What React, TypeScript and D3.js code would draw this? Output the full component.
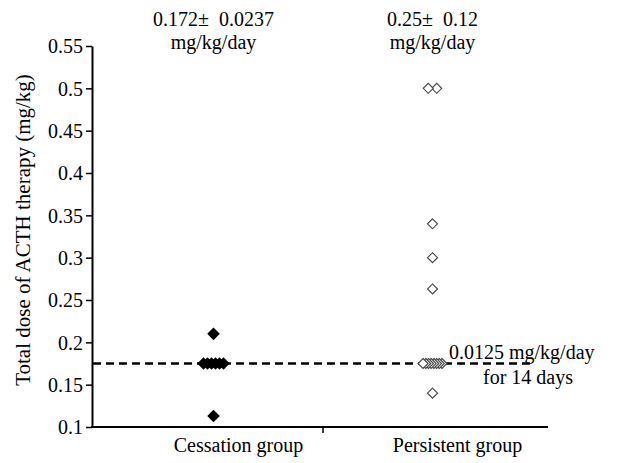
import React, { useEffect, useRef } from 'react';
import * as d3 from 'd3';

// values (mg/kg)
const categories = ['Cessation group', 'Persistent group'];
const cessationValues = [0.21, 0.175, 0.175, 0.175, 0.175, 0.175, 0.175, 0.113];
const persistentValues = [0.5, 0.5, 0.34, 0.3, 0.263, 0.175, 0.175, 0.175, 0.175, 0.175, 0.175, 0.175, 0.175, 0.14];
const summaries = ['0.172\u00b1  0.0237', '0.25\u00b1  0.12'];
const yTicks = [0.1, 0.15, 0.2, 0.25, 0.3, 0.35, 0.4, 0.45, 0.5, 0.55];
const referenceDose = 0.175;

const App = () => {
  const svgRef = useRef<SVGSVGElement>(null);

  useEffect(() => {
    const width = 618;
    const height = 463;
    const font = "'Liberation Serif', 'DejaVu Serif', serif";

    const svg = d3.select(svgRef.current);
    svg.selectAll('*').remove();
    svg.attr('width', width).attr('height', height)
      .style('display', 'block')
      .style('position', 'absolute')
      .style('left', '0px')
      .style('top', '0px')
      .style('font-family', font);

    const y = d3.scaleLinear().domain([0.1, 0.55]).range([427, 46]);
    const x = d3.scalePoint<string>().domain(categories).range([104, 542]).padding(0.5);

    // axes
    const yAxis = svg.append('g')
      .attr('transform', 'translate(92,0)')
      .call(d3.axisLeft(y).tickValues(yTicks).tickSize(6).tickSizeOuter(0)
        .tickFormat(d => String(+(+d).toFixed(2))));
    yAxis.attr('font-family', null).attr('font-size', null);
    yAxis.select('.domain').attr('stroke-width', 2);
    yAxis.selectAll('.tick line').attr('stroke-width', 1.5);
    yAxis.selectAll('.tick text')
      .style('font-size', '20px').attr('fill', '#000').attr('x', -9).attr('dy', '0.34em');

    svg.append('line')
      .attr('x1', 91).attr('x2', 548).attr('y1', y(0.1)).attr('y2', y(0.1))
      .attr('stroke', '#000').attr('stroke-width', 2);
    svg.append('line')
      .attr('x1', 323).attr('x2', 323).attr('y1', y(0.1)).attr('y2', y(0.1) + 6)
      .attr('stroke', '#000').attr('stroke-width', 1.5);

    svg.selectAll('text.cat')
      .data(categories)
      .join('text')
      .attr('class', 'cat')
      .attr('x', d => (x(d) as number) + 25)
      .attr('y', 452)
      .attr('text-anchor', 'middle')
      .style('font-size', '20px')
      .text(d => d);

    svg.append('text')
      .attr('transform', 'translate(30,230) rotate(-90)')
      .attr('text-anchor', 'middle')
      .style('font-size', '21px')
      .text('Total dose of ACTH therapy (mg/kg)');

    // summary text above each group
    summaries.forEach((s, i) => {
      const cx = x(categories[i]) as number;
      const t = svg.append('text')
        .attr('text-anchor', 'middle')
        .style('font-size', '20px')
        .style('white-space', 'pre');
      t.append('tspan').attr('x', cx).attr('y', 26).text(s);
      t.append('tspan').attr('x', cx).attr('y', 49).text('mg/kg/day');
    });

    // reference dashed line
    svg.append('line')
      .attr('x1', 93).attr('x2', 532)
      .attr('y1', y(referenceDose)).attr('y2', y(referenceDose))
      .attr('stroke', '#000').attr('stroke-width', 2.5)
      .attr('stroke-dasharray', '8,5');

    svg.append('text')
      .attr('x', 449).attr('y', 359)
      .style('font-size', '20px')
      .text('0.0125 mg/kg/day');
    svg.append('text')
      .attr('x', 528).attr('y', 384)
      .attr('text-anchor', 'middle')
      .style('font-size', '20px')
      .text('for 14 days');

    // spread duplicate values sideways
    const spread = (values: number[], stepFor: (n: number) => number) => {
      const counts = d3.rollup(values, v => v.length, v => v);
      const seen = new Map<number, number>();
      return values.map(v => {
        const n = counts.get(v) as number;
        const i = seen.get(v) ?? 0;
        seen.set(v, i + 1);
        return { value: v, dx: (i - (n - 1) / 2) * stepFor(n) };
      });
    };

    const diamond = d3.symbol().type(d3.symbolDiamond2);

    const cess = spread(cessationValues, n => (n > 2 ? 4 : 9));
    svg.append('g')
      .selectAll('path')
      .data(cess)
      .join('path')
      .attr('transform', d => `translate(${(x(categories[0]) as number) + d.dx},${y(d.value)})`)
      .attr('d', diamond.size(100)())
      .attr('fill', '#000');

    // open diamonds, drawn right to left so the left one stays whole
    const pers = spread(persistentValues, n => (n > 2 ? 2.7 : 8.5))
      .sort((a, b) => d3.descending(a.dx, b.dx));
    svg.append('g')
      .selectAll('path')
      .data(pers)
      .join('path')
      .attr('transform', d => `translate(${(x(categories[1]) as number) + d.dx},${y(d.value)})`)
      .attr('d', diamond.size(64)())
      .attr('fill', '#fff')
      .attr('stroke', '#444')
      .attr('stroke-width', 1.1);
  }, []);

  return <svg ref={svgRef}></svg>;
};

export default App;
